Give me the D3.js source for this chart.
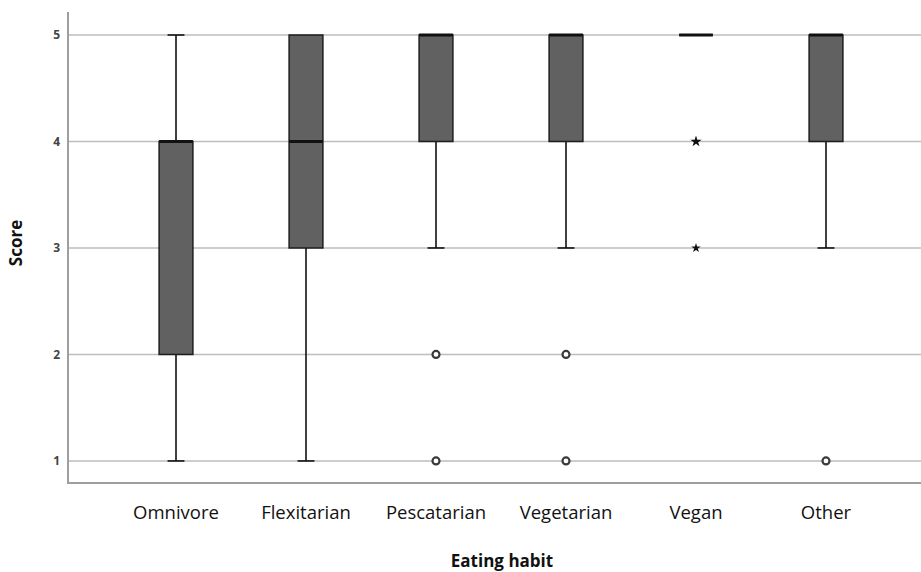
<!DOCTYPE html>
<html>
<head>
<meta charset="utf-8">
<script src="https://cdn.jsdelivr.net/npm/d3@7"></script>
<style>
  body { margin: 0; background: #fff; }
  svg { display: block; font-family: "Open Sans", "Noto Sans", sans-serif; }
</style>
</head>
<body>
<div id="chart"></div>
<script>
// Box plot data (score 1-5)
const categories = ["Omnivore", "Flexitarian", "Pescatarian", "Vegetarian", "Vegan", "Other"];
const whiskerLow = [1, 1, 3, 3, 5, 3];
const q1 = [2, 3, 4, 4, 5, 4];
const medians = [4, 4, 5, 5, 5, 5];
const q3 = [4, 5, 5, 5, 5, 5];
const whiskerHigh = [5, 5, 5, 5, 5, 5];
// outliers (circle) and extremes (star)
const outliers = [
  { cat: "Pescatarian", value: 2 }, { cat: "Pescatarian", value: 1 },
  { cat: "Vegetarian", value: 2 }, { cat: "Vegetarian", value: 1 },
  { cat: "Other", value: 1 }
];
const extremes = [
  { cat: "Vegan", value: 4 }, { cat: "Vegan", value: 3 }
];
const yTicks = [1, 2, 3, 4, 5];

const width = 921, height = 572;
const plot = { left: 68, right: 921, top: 12, bottom: 483 };

const svg = d3.select("#chart").append("svg")
  .attr("width", width)
  .attr("height", height);

/* scales */
const xScale = d3.scaleBand()
  .domain(categories)
  .range([111, 891]);

const yScale = d3.scaleLinear()
  .domain([0.793, 5])
  .range([plot.bottom, 35]);

const boxWidth = xScale.bandwidth() * 0.26;
const capWidth = boxWidth / 2;
const cx = c => xScale(c) + xScale.bandwidth() / 2;

/* gridlines */
svg.append("g")
  .selectAll("line")
  .data(yTicks)
  .join("line")
    .attr("x1", plot.left)
    .attr("x2", plot.right)
    .attr("y1", d => yScale(d))
    .attr("y2", d => yScale(d))
    .attr("stroke", "#bdbdbd")
    .attr("stroke-width", 1.5);

/* axes frame */
const leftAxis = d3.axisLeft(yScale).tickValues(yTicks).tickSize(0).tickPadding(8).tickFormat(d3.format("d"));
const gy = svg.append("g")
  .attr("transform", `translate(${plot.left},0)`)
  .call(leftAxis);
gy.select(".domain").remove();
gy.selectAll("text")
  .attr("font-size", 12)
  .attr("font-weight", "bold")
  .attr("fill", "#444")
  .attr("font-family", "\"Open Sans\", sans-serif");

svg.append("line")
  .attr("x1", plot.left).attr("x2", plot.left)
  .attr("y1", plot.top).attr("y2", plot.bottom)
  .attr("stroke", "#9e9e9e").attr("stroke-width", 2);

svg.append("line")
  .attr("x1", plot.left - 1).attr("x2", plot.right)
  .attr("y1", plot.bottom).attr("y2", plot.bottom)
  .attr("stroke", "#9e9e9e").attr("stroke-width", 2);

const bottomAxis = d3.axisBottom(xScale).tickSize(0).tickPadding(23);
const gx = svg.append("g")
  .attr("transform", `translate(0,${plot.bottom})`)
  .call(bottomAxis);
gx.select(".domain").remove();
gx.selectAll("text")
  .attr("font-size", 18.5)
  .attr("fill", "#111")
  .attr("font-family", "\"Open Sans\", sans-serif");

/* boxes */
const rows = categories.map((c, i) => ({
  cat: c, lo: whiskerLow[i], q1: q1[i], med: medians[i], q3: q3[i], hi: whiskerHigh[i]
}));

const g = svg.append("g");

// whiskers
g.selectAll(".whisker-low")
  .data(rows.filter(d => d.lo < d.q1))
  .join("line")
    .attr("x1", d => cx(d.cat)).attr("x2", d => cx(d.cat))
    .attr("y1", d => yScale(d.q1)).attr("y2", d => yScale(d.lo))
    .attr("stroke", "#111").attr("stroke-width", 1.6);
g.selectAll(".whisker-high")
  .data(rows.filter(d => d.hi > d.q3))
  .join("line")
    .attr("x1", d => cx(d.cat)).attr("x2", d => cx(d.cat))
    .attr("y1", d => yScale(d.q3)).attr("y2", d => yScale(d.hi))
    .attr("stroke", "#111").attr("stroke-width", 1.6);

// caps
const caps = [];
rows.forEach(d => {
  if (d.lo < d.q1) caps.push({ cat: d.cat, v: d.lo });
  if (d.hi > d.q3) caps.push({ cat: d.cat, v: d.hi });
});
g.selectAll(".cap")
  .data(caps)
  .join("line")
    .attr("x1", d => cx(d.cat) - capWidth / 2)
    .attr("x2", d => cx(d.cat) + capWidth / 2)
    .attr("y1", d => yScale(d.v)).attr("y2", d => yScale(d.v))
    .attr("stroke", "#111").attr("stroke-width", 1.6);

// box rectangles
g.selectAll("rect")
  .data(rows.filter(d => d.q3 > d.q1))
  .join("rect")
    .attr("x", d => cx(d.cat) - boxWidth / 2)
    .attr("y", d => yScale(d.q3))
    .attr("width", boxWidth)
    .attr("height", d => yScale(d.q1) - yScale(d.q3))
    .attr("fill", "#616161")
    .attr("stroke", "#1e1e1e")
    .attr("stroke-width", 1.5);

// medians
g.selectAll(".median")
  .data(rows)
  .join("line")
    .attr("x1", d => cx(d.cat) - boxWidth / 2)
    .attr("x2", d => cx(d.cat) + boxWidth / 2)
    .attr("y1", d => yScale(d.med)).attr("y2", d => yScale(d.med))
    .attr("stroke", "#111").attr("stroke-width", 3);

/* outliers */
g.selectAll(".outlier")
  .data(outliers)
  .join("circle")
    .attr("cx", d => cx(d.cat))
    .attr("cy", d => yScale(d.value))
    .attr("r", 3.5)
    .attr("fill", "#fff")
    .attr("stroke", "#3a3a3a")
    .attr("stroke-width", 2.2);

const star = d3.symbol().type(d3.symbolStar);
g.selectAll(".extreme")
  .data(extremes)
  .join("path")
    .attr("transform", d => `translate(${cx(d.cat)},${yScale(d.value)})`)
    .attr("d", (d, i) => star.size(i === 0 ? 40 : 28)())
    .attr("fill", "#111");

/* axis titles */
svg.append("text")
  .text("Score")
  .attr("transform", "translate(22,243) rotate(-90)")
  .attr("text-anchor", "middle")
  .attr("font-size", 17)
  .attr("font-weight", "bold")
  .attr("fill", "#111");

svg.append("text")
  .text("Eating habit")
  .attr("x", 502)
  .attr("y", 567)
  .attr("text-anchor", "middle")
  .attr("font-size", 17)
  .attr("font-weight", "bold")
  .attr("fill", "#111");
</script>
</body>
</html>
